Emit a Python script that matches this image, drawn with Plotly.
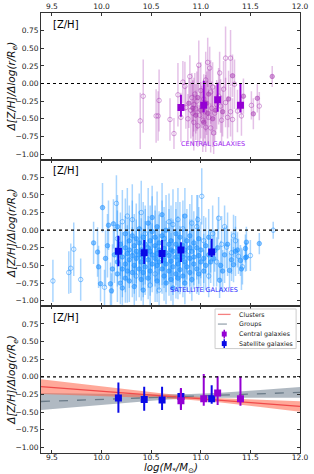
import plotly.graph_objects as go

# ---------------- DATA ----------------
X_RANGE = [9.39, 12.0]
Y_RANGE = [-1.08, 1.0]
x_tickvals = [9.5, 10.0, 10.5, 11.0, 11.5, 12.0]
x_ticktext = ["9.5", "10.0", "10.5", "11.0", "11.5", "12.0"]
y_tickvals = [-1.0, -0.75, -0.5, -0.25, 0.0, 0.25, 0.5, 0.75]

cen_open_x = [10.39, 10.42, 10.55, 10.57, 10.58, 10.69, 10.73, 10.77, 10.80, 10.82,
              10.84, 10.85, 10.87, 10.89, 10.90, 10.91, 10.92, 10.93, 10.93, 10.94,
              10.95, 10.96, 10.97, 10.98, 10.99, 11.00, 11.01, 11.02, 11.03, 11.04,
              11.05, 11.05, 11.06, 11.07, 11.08, 11.09, 11.10, 11.10, 11.11, 11.12,
              11.13, 11.14, 11.16, 11.18, 11.19, 11.20, 11.21, 11.23, 11.25, 11.25,
              11.27, 11.30, 11.30, 11.32, 11.34, 11.37, 11.41, 11.51, 11.59]
cen_open_y = [-0.53, -0.18, -0.46, -0.46, -0.24, -0.51, -0.71, -0.16, -0.48, 0.02,
              -0.04, -0.34, -0.50, 0.10, -0.38, -0.20, -0.42, -0.30, -0.55, -0.15,
              -0.36, -0.25, -0.60, 0.26, -0.45, -0.10, -0.33, -0.52, -0.22, -0.40,
              0.05, -0.62, -0.28, 0.30, -0.48, 0.22, -0.63, -0.12, -0.35, -0.05,
              -0.70, -0.42, -0.30, -0.18, 0.15, -0.32, -0.52, -0.08, 0.36, -0.27,
              -0.48, 0.36, -0.40, -0.51, -0.01, -0.39, -0.46, -0.31, -0.32]
cen_open_e = [0.40, 0.52, 0.38, 0.35, 0.44, 0.30, 0.22, 0.45, 0.35, 0.30,
              0.35, 0.30, 0.35, 0.30, 0.40, 0.35, 0.45, 0.38, 0.40, 0.30,
              0.35, 0.42, 0.30, 0.35, 0.38, 0.40, 0.30, 0.45, 0.35, 0.38,
              0.40, 0.35, 0.45, 0.35, 0.40, 0.30, 0.35, 0.45, 0.38, 0.35,
              0.30, 0.40, 0.35, 0.40, 0.30, 0.38, 0.35, 0.40, 0.45, 0.35,
              0.30, 0.40, 0.35, 0.30, 0.35, 0.30, 0.28, 0.20, 0.20]

cen_fill_x = [10.88, 10.92, 10.95, 10.97, 11.00, 11.03, 11.05, 11.07, 11.08, 11.12,
              11.15, 11.22, 11.28, 11.32, 11.43, 11.53, 11.57, 11.72]
cen_fill_y = [-0.28, -0.35, -0.45, -0.20, -0.38, -0.55, -0.28, -0.42, -0.15, -0.50,
              -0.38, -0.40, -0.22, 0.11, -0.18, -0.43, -0.21, 0.10]
cen_fill_e = [0.35, 0.40, 0.35, 0.45, 0.40, 0.35, 0.40, 0.45, 0.35, 0.40,
              0.35, 0.35, 0.40, 0.30, 0.25, 0.22, 0.20, 0.15]

sat_open_x = [9.51, 9.67, 9.69, 9.72, 9.79, 10.15, 11.01, 10.97, 11.18, 11.26,
              11.33, 11.73, 11.38, 10.03,
              10.16, 10.21, 10.26, 10.31, 10.35, 10.40, 10.44, 10.49, 10.54, 10.58,
              10.63, 10.68, 10.72, 10.77, 10.82, 10.86, 10.91, 10.96, 11.03, 11.08,
              11.12, 11.16, 11.21, 11.24, 11.31, 11.35, 11.42, 11.50]
sat_open_y = [-0.72, -0.60, -0.54, -0.27, -0.70, 0.38, 0.48, 0.15, 0.17, -0.24,
              -0.08, 0.00, -0.37, -0.81,
              -0.12, 0.12, 0.20, 0.15, -0.65, 0.25, -0.05, -0.78, -0.62, -0.85,
              -0.12, 0.12, 0.08, 0.15, 0.02, -0.35, 0.10, 0.05, -0.15, -0.65,
              -0.05, -0.45, -0.20, 0.05, -0.32, -0.15, -0.52, -0.36]
sat_open_e = [0.30, 0.30, 0.35, 0.38, 0.30, 0.40, 0.40, 0.35, 0.30, 0.30,
              0.30, 0.12, 0.25, 0.25,
              0.40, 0.45, 0.40, 0.50, 0.35, 0.45, 0.40, 0.35, 0.40, 0.30,
              0.45, 0.40, 0.50, 0.45, 0.40, 0.35, 0.40, 0.45, 0.35, 0.30,
              0.40, 0.35, 0.40, 0.30, 0.30, 0.35, 0.25, 0.22]

sat_fill_x = [9.92, 9.96, 9.97, 9.99, 10.01, 10.07, 10.09, 10.10, 10.12, 11.14,
              11.22, 11.19, 11.29, 11.33, 11.37, 11.45, 11.46, 11.46, 11.59, 11.40, 11.45,
              10.04, 10.06, 10.11, 10.13,
              10.16, 10.16, 10.16,
              10.19, 10.19, 10.19,
              10.21, 10.21, 10.21,
              10.24, 10.24, 10.24, 10.24,
              10.26, 10.26,
              10.28, 10.28, 10.28, 10.28,
              10.31, 10.31, 10.31,
              10.33, 10.33, 10.33,
              10.35, 10.35, 10.35,
              10.38, 10.38, 10.38, 10.38,
              10.40, 10.40, 10.40,
              10.42, 10.42, 10.42, 10.42,
              10.44, 10.44, 10.44,
              10.47, 10.47, 10.47, 10.47,
              10.49, 10.49, 10.49,
              10.51, 10.51, 10.51, 10.51,
              10.54, 10.54, 10.54,
              10.56, 10.56, 10.56, 10.56,
              10.58, 10.58, 10.58,
              10.61, 10.61, 10.61, 10.61,
              10.63, 10.63, 10.63,
              10.65, 10.65, 10.65, 10.65,
              10.68, 10.68, 10.68,
              10.70, 10.70, 10.70, 10.70,
              10.72, 10.72, 10.72,
              10.75, 10.75, 10.75, 10.75,
              10.77, 10.77, 10.77,
              10.79, 10.79, 10.79, 10.79,
              10.82, 10.82, 10.82,
              10.84, 10.84, 10.84, 10.84,
              10.86, 10.86,
              10.89, 10.89, 10.89, 10.89,
              10.91, 10.91,
              10.93, 10.93, 10.93,
              10.96, 10.96,
              10.98, 10.98, 10.98,
              11.00, 11.00,
              11.03, 11.03,
              11.05, 11.05,
              11.08, 11.08,
              11.10, 11.10,
              11.13, 11.17, 11.20, 11.24, 11.27, 11.31, 11.35, 11.41]
sat_fill_y = [-0.18, -0.31, -0.52, -0.76, 0.32, 0.07, -0.76, -0.86, 0.09, -0.29,
              -0.58, -0.71, -0.57, -0.49, -0.28, -0.26, -0.38, -0.17, -0.19, -0.43, -0.39,
              -0.40, -0.22, -0.55, -0.35,
              -0.45, -0.62, 0.05,
              -0.30, -0.75, -0.20,
              -0.38, -0.55, -0.82,
              -0.25, -0.48, -0.05, -0.68,
              -0.33, -0.58,
              -0.15, -0.42, -0.72, -0.28,
              -0.36, -0.08, -0.60,
              -0.22, -0.50, -0.80,
              -0.40, -0.12, -0.30,
              -0.18, -0.55, 0.02, -0.35,
              -0.45, -0.28, -0.70,
              -0.10, -0.38, -0.60, -0.85,
              -0.32, -0.52, -0.20,
              -0.42, -0.68, 0.10, -0.25,
              -0.30, -0.15, -0.58,
              -0.48, -0.02, -0.35, 0.18,
              -0.22, -0.40, -0.10,
              -0.33, -0.72, 0.05, -0.50,
              -0.18, -0.45, -0.28,
              -0.38, -0.08, -0.55, 0.22,
              -0.26, -0.65, -0.42,
              -0.48, 0.00, -0.32, -0.75,
              -0.20, -0.58, -0.36,
              -0.44, -0.15, -0.70, -0.28,
              -0.30, -0.52, -0.82,
              -0.38, -0.20, -0.62, -0.05,
              -0.25, -0.48, -0.68,
              -0.34, -0.10, -0.56, -0.42,
              -0.22, -0.65, -0.38,
              -0.45, -0.28, -0.75, 0.20,
              -0.15, -0.52,
              -0.40, -0.08, -0.60, -0.25,
              -0.30, -0.70,
              -0.48, -0.18, -0.38,
              -0.25, -0.55,
              -0.36, -0.12, -0.62,
              -0.28, -0.45,
              -0.40, -0.58,
              -0.22, -0.50,
              -0.35, -0.10,
              -0.30, -0.45,
              -0.40, -0.25, -0.50, -0.35, -0.20, -0.42, -0.30, -0.55]
sat_fill_e = [0.30, 0.35, 0.30, 0.25, 0.35, 0.35, 0.30, 0.25, 0.35, 0.30,
              0.30, 0.25, 0.25, 0.25, 0.25, 0.20, 0.20, 0.22, 0.15, 0.22, 0.20,
              0.40, 0.45, 0.35, 0.40,
              0.35, 0.40, 0.45,
              0.40, 0.30, 0.45,
              0.35, 0.40, 0.30,
              0.45, 0.40, 0.50, 0.35,
              0.40, 0.45,
              0.50, 0.40, 0.30, 0.45,
              0.40, 0.50, 0.35,
              0.45, 0.40, 0.30,
              0.40, 0.50, 0.45,
              0.45, 0.40, 0.50, 0.35,
              0.40, 0.45, 0.30,
              0.50, 0.40, 0.35, 0.25,
              0.45, 0.40, 0.50,
              0.40, 0.30, 0.50, 0.45,
              0.45, 0.50, 0.35,
              0.40, 0.50, 0.45, 0.45,
              0.50, 0.40, 0.45,
              0.40, 0.30, 0.50, 0.40,
              0.45, 0.40, 0.50,
              0.40, 0.50, 0.35, 0.45,
              0.45, 0.35, 0.40,
              0.40, 0.50, 0.45, 0.30,
              0.50, 0.35, 0.40,
              0.40, 0.50, 0.30, 0.45,
              0.45, 0.40, 0.25,
              0.40, 0.50, 0.35, 0.45,
              0.45, 0.40, 0.30,
              0.40, 0.50, 0.35, 0.40,
              0.45, 0.30, 0.40,
              0.35, 0.45, 0.30, 0.40,
              0.45, 0.35,
              0.40, 0.45, 0.30, 0.40,
              0.45, 0.30,
              0.35, 0.45, 0.40,
              0.45, 0.35,
              0.40, 0.45, 0.30,
              0.40, 0.35,
              0.35, 0.30,
              0.40, 0.35,
              0.35, 0.40,
              0.30, 0.30,
              0.40, 0.45, 0.35, 0.40, 0.45, 0.30, 0.35, 0.30]

cen_bin_x = [10.80, 11.03, 11.17, 11.40]
cen_bin_y = [-0.34, -0.31, -0.23, -0.31]
cen_bin_eplus = [0.18, 0.35, 0.24, 0.31]
cen_bin_eminus = [0.13, 0.10, 0.17, 0.10]

sat_bin_x = [10.17, 10.43, 10.61, 10.80, 11.11]
sat_bin_y = [-0.30, -0.32, -0.33, -0.28, -0.31]
sat_bin_eplus = [0.22, 0.18, 0.19, 0.11, 0.19]
sat_bin_eminus = [0.21, 0.16, 0.14, 0.17, 0.07]

fit_x = [9.39, 9.8, 10.2, 10.6, 10.9, 11.2, 11.6, 12.0]
clu_mid = [-0.140, -0.184, -0.227, -0.269, -0.302, -0.334, -0.376, -0.420]
clu_lo = [-0.245, -0.264, -0.282, -0.304, -0.327, -0.364, -0.426, -0.495]
clu_hi = [-0.035, -0.104, -0.172, -0.234, -0.277, -0.304, -0.326, -0.345]
grp_mid = [-0.350, -0.330, -0.310, -0.290, -0.275, -0.260, -0.240, -0.220]
grp_lo = [-0.470, -0.420, -0.375, -0.330, -0.305, -0.295, -0.295, -0.295]
grp_hi = [-0.230, -0.240, -0.245, -0.250, -0.245, -0.225, -0.185, -0.145]

# ---------------- STYLE ----------------
PURPLE = "#9400D3"
BLUE = "#0a0ae6"
PT_PURPLE = "rgba(165,50,175,0.30)"
PT_PURPLE_M = "rgba(165,50,175,0.45)"
PT_BLUE = "rgba(30,144,255,0.38)"
PT_BLUE_M = "rgba(30,144,255,0.5)"
FONT = "DejaVu Sans"

fig = go.Figure()


def scatter_pts(x, y, e, ax, col_bar, col_m, filled):
    fig.add_trace(go.Scatter(
        x=x, y=y, mode="markers", xaxis=ax[0], yaxis=ax[1], showlegend=False,
        marker=dict(symbol="circle" if filled else "circle-open", size=4.5,
                    color=col_m, line=dict(width=1, color=col_m)),
        error_y=dict(type="data", array=e, visible=True, color=col_bar,
                     thickness=1.5, width=0)))


def binned(x, y, ep, em, ax, col):
    fig.add_trace(go.Scatter(
        x=x, y=y, mode="markers", xaxis=ax[0], yaxis=ax[1], showlegend=False,
        marker=dict(symbol="square", size=7, color=col),
        error_y=dict(type="data", array=ep, arrayminus=em, visible=True,
                     color=col, thickness=2, width=0)))


scatter_pts(cen_open_x, cen_open_y, cen_open_e, ("x", "y"), PT_PURPLE, PT_PURPLE_M, False)
scatter_pts(cen_fill_x, cen_fill_y, cen_fill_e, ("x", "y"), PT_PURPLE, PT_PURPLE_M, True)
binned(cen_bin_x, cen_bin_y, cen_bin_eplus, cen_bin_eminus, ("x", "y"), PURPLE)

scatter_pts(sat_open_x, sat_open_y, sat_open_e, ("x2", "y2"), PT_BLUE, PT_BLUE_M, False)
scatter_pts(sat_fill_x, sat_fill_y, sat_fill_e, ("x2", "y2"), PT_BLUE, PT_BLUE_M, True)
binned(sat_bin_x, sat_bin_y, sat_bin_eplus, sat_bin_eminus, ("x2", "y2"), BLUE)

fig.add_trace(go.Scatter(x=fit_x, y=grp_lo, mode="lines", line=dict(width=0),
                         xaxis="x3", yaxis="y3", showlegend=False, hoverinfo="skip"))
fig.add_trace(go.Scatter(x=fit_x, y=grp_hi, mode="lines", line=dict(width=0),
                         fill="tonexty", fillcolor="rgba(112,128,144,0.55)",
                         xaxis="x3", yaxis="y3", showlegend=False, hoverinfo="skip"))
fig.add_trace(go.Scatter(x=fit_x, y=clu_lo, mode="lines", line=dict(width=0),
                         xaxis="x3", yaxis="y3", showlegend=False, hoverinfo="skip"))
fig.add_trace(go.Scatter(x=fit_x, y=clu_hi, mode="lines", line=dict(width=0),
                         fill="tonexty", fillcolor="rgba(255,99,71,0.55)",
                         xaxis="x3", yaxis="y3", showlegend=False, hoverinfo="skip"))
fig.add_trace(go.Scatter(x=fit_x, y=grp_mid, mode="lines",
                         line=dict(color="#6b7b88", width=1.3, dash="dash"),
                         xaxis="x3", yaxis="y3", showlegend=False))
fig.add_trace(go.Scatter(x=fit_x, y=clu_mid, mode="lines",
                         line=dict(color="#f04a4a", width=1.3),
                         xaxis="x3", yaxis="y3", showlegend=False))
binned(sat_bin_x, sat_bin_y, sat_bin_eplus, sat_bin_eminus, ("x3", "y3"), BLUE)
binned(cen_bin_x, cen_bin_y, cen_bin_eplus, cen_bin_eminus, ("x3", "y3"), PURPLE)

# ---------------- LAYOUT ----------------
axcol = "#333333"
tickfont = dict(family=FONT, size=7.5, color="#222")
common_x = dict(range=X_RANGE, tickvals=x_tickvals, ticktext=x_ticktext,
                ticks="inside", ticklen=3, tickcolor=axcol, showline=True,
                linecolor=axcol, linewidth=1, mirror="ticks", showgrid=False,
                zeroline=False, tickfont=tickfont, automargin=False)
common_y = dict(range=Y_RANGE, autorange=False, tickvals=y_tickvals, tickformat=".2f",
                ticks="inside", ticklen=3, tickcolor=axcol, showline=True,
                linecolor=axcol, linewidth=1, mirror="ticks", showgrid=False,
                zeroline=False, tickfont=tickfont, automargin=False)

fig.update_layout(
    width=314, height=474,
    margin=dict(l=41, r=14, t=13, b=21),
    paper_bgcolor="white", plot_bgcolor="white",
    font=dict(family=FONT),
    xaxis=dict(common_x, anchor="y", side="top", showticklabels=True),
    xaxis2=dict(common_x, anchor="y2", showticklabels=False, matches="x"),
    xaxis3=dict(common_x, anchor="y3", showticklabels=True, matches="x",
                ticklabelstandoff=-3),
    yaxis=dict(common_y, domain=[2 / 3, 1.0], anchor="x"),
    yaxis2=dict(common_y, domain=[1 / 3, 2 / 3], anchor="x2"),
    yaxis3=dict(common_y, domain=[0.0, 1 / 3], anchor="x3"),
)

shapes = []
annotations = []
ytitle = "<i>Δ[Z/H]/Δlog(r/R<sub>e</sub>)</i>"
for ax, yr in (("x", "y"), ("x2", "y2"), ("x3", "y3")):
    shapes.append(dict(type="line", xref=f"{ax} domain", yref=yr, x0=0, x1=1, y0=0, y1=0,
                       line=dict(color="black", width=1.2, dash="dot"), layer="above"))
    annotations.append(dict(text="[Z/H]", xref=f"{ax} domain", yref=f"{yr} domain",
                            x=0.04, y=0.975, xanchor="left", yanchor="top", showarrow=False,
                            font=dict(family=FONT, size=10, color="black")))
    annotations.append(dict(text=ytitle, xref="paper", yref=f"{yr} domain",
                            x=-0.112, y=0.5, xanchor="center", yanchor="middle",
                            textangle=-90, showarrow=False,
                            font=dict(family=FONT, size=10.5, color="#111")))

annotations.append(dict(text="<i>log(M<sub>*</sub>/M<sub>⊙</sub>)</i>", xref="paper", yref="paper",
                        x=0.5, y=-0.0345, xanchor="center", yanchor="middle", showarrow=False,
                        borderpad=0, font=dict(family=FONT, size=10.2, color="#111")))
annotations.append(dict(text="CENTRAL GALAXIES", xref="x domain", yref="y domain",
                        x=0.797, y=0.066, showarrow=False,
                        font=dict(family=FONT, size=6.5, color="#a020f0")))
annotations.append(dict(text="SATELLITE GALAXIES", xref="x2 domain", yref="y2 domain",
                        x=0.768, y=0.07, showarrow=False,
                        font=dict(family=FONT, size=6.5, color="#2a2aff")))

xd, yd = "x3 domain", "y3 domain"
shapes.append(dict(type="rect", xref=xd, yref=yd, x0=0.672, x1=0.985, y0=0.712, y1=0.982,
                   fillcolor="white", line=dict(color="#cccccc", width=1), layer="above"))
leg_y = [0.945, 0.879, 0.811, 0.746]
leg_txt = ["Clusters", "Groups", "Central galaxies", "Satellite galaxies"]
shapes.append(dict(type="line", xref=xd, yref=yd, x0=0.683, x1=0.732, y0=leg_y[0], y1=leg_y[0],
                   line=dict(color="#f58080", width=1.3), layer="above"))
shapes.append(dict(type="line", xref=xd, yref=yd, x0=0.683, x1=0.732, y0=leg_y[1], y1=leg_y[1],
                   line=dict(color="#9aa6b0", width=1.3, dash="dash"), layer="above"))
for yy, col in ((leg_y[2], PURPLE), (leg_y[3], BLUE)):
    shapes.append(dict(type="line", xref=xd, yref=yd, x0=0.7075, x1=0.7075,
                       y0=yy - 0.03, y1=yy + 0.03, line=dict(color=col, width=1.5), layer="above"))
    shapes.append(dict(type="rect", xref=xd, yref=yd, x0=0.698, x1=0.717,
                       y0=yy - 0.017, y1=yy + 0.017, fillcolor=col, line=dict(width=0),
                       layer="above"))
for yy, t in zip(leg_y, leg_txt):
    annotations.append(dict(text=t, xref=xd, yref=yd, x=0.756, y=yy, xanchor="left",
                            yanchor="middle", showarrow=False,
                            font=dict(family=FONT, size=6.3, color="#222")))

fig.update_layout(shapes=shapes, annotations=annotations)
fig.write_html("out.html", config={"displayModeBar": False},
               post_script="document.body.style.margin='0px';document.body.style.overflow='hidden';")
